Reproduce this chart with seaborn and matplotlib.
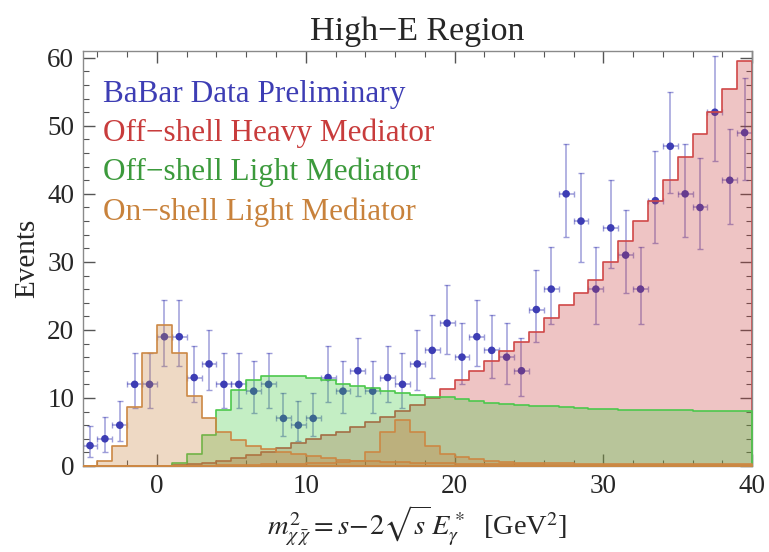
import numpy as np
import pandas as pd
import matplotlib
matplotlib.use("Agg")
import matplotlib.pyplot as plt
import seaborn as sns

# ---------------- data ----------------
bin_low = list(range(-5, 40))          # bins of width 1 GeV^2, [k, k+1]

data_counts = [3, 4, 6, 12, 12, 19, 19, 13, 15, 12, 12, 11, 12, 7, 6, 7,
               13, 11, 14, 11, 13, 12, 15, 17, 21, 16, 19, 17, 16, 14,
               23, 26, 40, 36, 26, 35, 31, 26, 39, 47, 40, 38, 52, 42, 49]

heavy_offshell = [0, 0, 0, 0, 0, 0, 0.1, 0.3, 0.5, 0.8, 1.2, 1.6, 2.0, 2.7, 3.4,
                  4.0, 4.5, 5.0, 5.7, 6.45, 7.2, 8.05, 8.9, 10.0, 11.25, 12.7,
                  14.0, 15.5, 16.9, 18.2, 19.7, 21.7, 23.7, 25.5, 27.3, 30.0,
                  33.0, 36.0, 38.9, 42.1, 45.4, 48.75, 52.0, 55.4, 59.6]

light_offshell = [0, 0, 0, 0, 0, 0, 0.5, 1.8, 4.5, 8.2, 11.1, 12.6, 13.2, 13.3,
                  13.2, 13.0, 12.6, 12.0, 11.8, 11.4, 11.0, 10.7, 10.5, 10.2,
                  10.1, 9.8, 9.5, 9.3, 9.1, 9.0, 8.85, 8.75, 8.6, 8.5, 8.4,
                  8.35, 8.3, 8.3, 8.25, 8.25, 8.2, 8.15, 8.1, 8.1, 8.1]

light_onshell_a = [0.05, 0.7, 2.9, 8.6, 16.6, 20.7, 16.6, 10.3, 7.0, 5.0, 3.75,
                   2.9, 2.5, 2.1, 1.7, 1.4, 1.2, 0.95, 0.8, 0.7, 0.6, 0.55, 0.5,
                   0.45, 0.4, 0.35, 0.33, 0.3, 0.28, 0.26, 0.24, 0.22, 0.2,
                   0.19, 0.18, 0.17, 0.16, 0.15, 0.14, 0.13, 0.12, 0.12, 0.11,
                   0.1, 0.1]

light_onshell_b = [0, 0, 0, 0, 0, 0, 0, 0, 0, 0.1, 0.15, 0.2, 0.25, 0.3, 0.35,
                   0.4, 0.45, 0.55, 0.8, 2.0, 5.0, 6.8, 5.0, 3.0, 1.8, 1.3,
                   1.05, 0.8, 0.65, 0.5, 0.45, 0.4, 0.38, 0.36, 0.34, 0.32,
                   0.3, 0.3, 0.28, 0.28, 0.26, 0.26, 0.25, 0.25, 0.25]

legend_labels = ["BaBar Data Preliminary", "Off\u2212shell Heavy Mediator",
                 "Off\u2212shell Light Mediator", "On\u2212shell Light Mediator"]
x_ticks = [0, 10, 20, 30, 40]
y_ticks = [0, 10, 20, 30, 40, 50, 60]

# ---------------- derived quantities ----------------
edges = [float(b) for b in bin_low] + [float(bin_low[-1] + 1)]
centers = np.array(bin_low, dtype=float) + 0.5
counts = np.array(data_counts, dtype=float)


def chi2_q(k, z):
    # Wilson-Hilferty approximation of the chi-square quantile
    return k * (1 - 2 / (9 * k) + z * np.sqrt(2 / (9 * k))) ** 3


# Garwood (Poisson) 68% intervals
lo = 0.5 * chi2_q(2 * counts, -1.0)
hi = 0.5 * chi2_q(2 * counts + 2, 1.0)
yerr = np.vstack([counts - lo, hi - counts])

df = pd.DataFrame({"x": centers, "n": counts})

# ---------------- styling ----------------
sns.set_theme(style="ticks")
plt.rcParams["font.family"] = ["Liberation Serif", "DejaVu Serif"]
plt.rcParams["mathtext.fontset"] = "stix"

fig = plt.figure(figsize=(7.69, 5.52), dpi=100)
ax = fig.add_axes([0.1074, 0.1558, 0.8706, 0.7518])

BLUE = "#3d3db4"
RED_L, RED_F = "#d04848", "#c83c3c"
GRN_L, GRN_F = "#4cc84c", "#3cc83c"
ORG_L, ORG_F = "#cc8844", "#c8823c"

# data (drawn below the translucent histograms)
ax.errorbar(centers, counts, xerr=0.5, yerr=yerr, fmt="none",
            ecolor=BLUE, alpha=0.5, elinewidth=1.1, capsize=2.5,
            capthick=1.0, zorder=1)
sns.scatterplot(data=df, x="x", y="n", ax=ax, color=BLUE, s=30,
                edgecolor="none", zorder=1.5, legend=False)

hist_specs = [
    (heavy_offshell, RED_F, RED_L),
    (light_offshell, GRN_F, GRN_L),
    (light_onshell_a, ORG_F, ORG_L),
    (light_onshell_b, ORG_F, ORG_L),
]
for z, (vals, fcol, lcol) in enumerate(hist_specs):
    hdf = pd.DataFrame({"x": centers, "w": vals})
    sns.histplot(data=hdf, x="x", weights="w", bins=edges, element="step",
                 fill=True, ax=ax,
                 facecolor=matplotlib.colors.to_rgba(fcol, 0.3),
                 edgecolor=lcol, linewidth=1.2, zorder=2 + z)

ax.set_xlim(-5, 40)
ax.set_ylim(0, 61)
ax.set_xticks(x_ticks)
ax.set_yticks(y_ticks)
ax.set_xticks(np.arange(-4, 40, 2), minor=True)
ax.set_yticks(np.arange(0, 61, 2), minor=True)
ax.tick_params(axis="both", which="major", direction="in", length=8.5,
               width=1.0, color="#555555", labelsize=19.5, top=True, right=True,
               pad=6)
ax.tick_params(axis="both", which="minor", direction="in", length=4.5,
               width=0.8, color="#555555", top=True, right=True)
for s in ax.spines.values():
    s.set_color("#8a8a8a")
    s.set_linewidth(1.0)

ax.set_ylabel("Events", fontsize=21, labelpad=5)
ax.set_xlabel(r"$m^2_{\chi\,\bar{\chi}} = s\!-\!2\sqrt{s}\,E^*_\gamma$  [GeV$^2$]",
              fontsize=20.5, labelpad=3)
ax.set_title("High\u2212E Region", fontsize=24.5, pad=8)

text_colors = [BLUE, "#c83c3c", "#3c9a3c", "#c8823c"]
text_y = [53.5, 47.75, 42.0, 36.1]
for lab, col, yy in zip(legend_labels, text_colors, text_y):
    ax.text(-3.63, yy, lab, color=col, fontsize=22.5, va="baseline",
            ha="left", zorder=10)

fig.savefig("out.png", dpi=100)
